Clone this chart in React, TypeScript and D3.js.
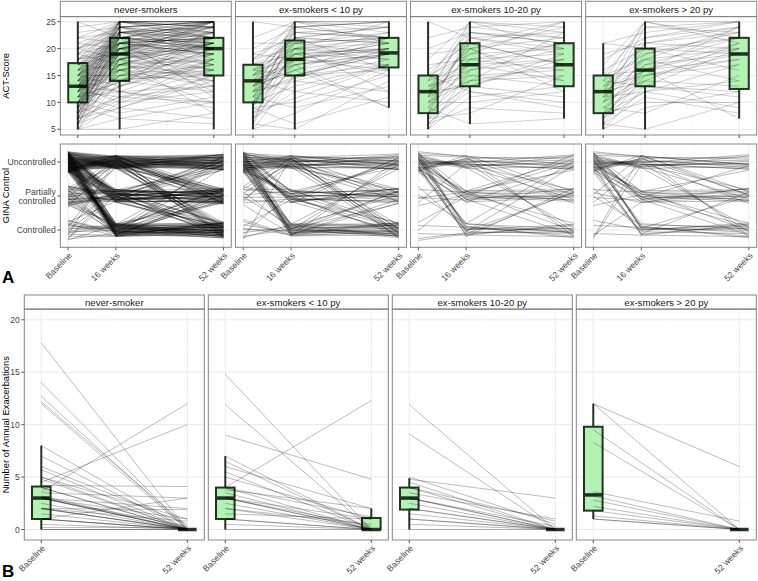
import React from 'react';
import * as d3 from 'd3';

const FONT = '"Liberation Sans", Arial, Helvetica, sans-serif';

// ---- categories & labels ----
const groupsA = ['never-smokers', 'ex-smokers < 10 py', 'ex-smokers 10-20 py', 'ex-smokers > 20 py'];
const groupsB = ['never-smoker', 'ex-smokers < 10 py', 'ex-smokers 10-20 py', 'ex-smokers > 20 py'];
const weeksA = [0, 16, 52];
const weekLabelsA = ['Baseline', '16 weeks', '52 weeks'];
const weeksB = [0, 52];
const weekLabelsB = ['Baseline', '52 weeks'];
const actTicks = [5, 10, 15, 20, 25];
const actMinor = [7.5, 12.5, 17.5, 22.5];
const ginaLevels = [['Uncontrolled'], ['Partially', 'controlled'], ['Controlled']];
const exaTicks = [0, 5, 10, 15, 20];
const exaMinor = [2.5, 7.5, 12.5, 17.5];

// ---- ACT box stats: per group, per time [min, q1, median, q3, max] ----
const actBoxNever = [[5, 10, 13, 17.3, 25], [5, 14, 19, 22, 25], [5, 15, 20, 22, 25]];
const actBoxEx10 = [[5, 10, 14, 17, 25], [5, 15, 18, 21.5, 25], [9, 16.5, 19.2, 22, 25]];
const actBoxEx1020 = [[5, 8, 12, 15, 25], [6, 13, 17, 21, 25], [7, 13, 17, 21, 25]];
const actBoxEx20 = [[5, 8, 12, 15, 21], [5, 13, 16, 20, 25], [7, 12.5, 19, 22, 25]];
const actBoxes = [actBoxNever, actBoxEx10, actBoxEx1020, actBoxEx20];

// ---- ACT scores per patient: [baseline, 16 weeks, 52 weeks] ----
const actNever = [
  [5, 14, 20], [5, 10, 12], [6, 18, 22], [6, 12, 9], [7, 15, 17], [7, 20, 23], [7, 9, 14], [8, 16, 15],
  [8, 22, 24], [8, 11, 10], [9, 19, 20], [9, 13, 18], [9, 24, 25], [10, 17, 21], [10, 8, 11], [10, 21, 19],
  [10, 14, 16], [10, 25, 25], [10, 19, 22], [11, 12, 13], [11, 20, 22], [11, 23, 21], [11, 16, 20], [11, 9, 7],
  [12, 18, 21], [12, 22, 23], [12, 15, 14], [12, 19, 24], [12, 11, 16], [12, 25, 23], [13, 20, 20], [13, 17, 19],
  [13, 23, 25], [13, 14, 12], [13, 21, 22], [13, 19, 17], [13, 10, 15], [13, 24, 22], [14, 18, 20], [14, 22, 21],
  [14, 16, 18], [14, 25, 25], [14, 12, 10], [14, 20, 23], [15, 19, 21], [15, 23, 24], [15, 15, 16], [15, 21, 20],
  [15, 13, 19], [15, 25, 24], [16, 20, 22], [16, 17, 14], [16, 22, 25], [16, 24, 21], [16, 14, 17], [17, 21, 22],
  [17, 19, 20], [17, 23, 23], [17, 16, 13], [17, 25, 25], [18, 22, 21], [18, 20, 24], [18, 24, 22], [19, 21, 20],
  [19, 25, 25], [19, 17, 18], [20, 23, 22], [20, 22, 25], [20, 18, 16], [21, 24, 23], [21, 20, 21], [22, 25, 24],
  [22, 21, 19], [23, 24, 25], [24, 25, 22], [25, 25, 25], [25, 22, 20], [5, 5, 8], [9, 7, 6], [11, null, 20],
  [14, null, 15], [7, null, 18], [12, 16, 10], [10, 13, 24], [13, 18, 8], [15, 20, 12], [11, 22, 17], [9, 17, 22],
  [16, 19, 19], [14, 21, 24], [12, 23, 20], [18, 19, 15], [20, 24, 25], [8, 18, 21], [6, 16, 19], [13, 22, 11],
  [10, 20, 25], [15, 24, 18], [6, 21, 25], [8, 25, 24], [11, 24, 25], [7, 23, 20], [9, 21, 23], [12, 20, 19],
  [5, 17, 21], [6, 20, 24], [7, 18, 25], [8, 21, 22], [9, 23, 24], [10, 22, 20], [11, 19, 25], [12, 21, 22],
  [13, 25, 24], [14, 23, 22], [15, 22, 25], [16, 25, 23], [17, 22, 20], [18, 25, 25], [12, 17, 15], [10, 15, 19],
  [8, 13, 17], [7, 11, 13], [9, 15, 21], [11, 17, 23], [13, 16, 21], [15, 18, 23], [14, 19, 16], [16, 21, 25],
  [19, 23, 24], [20, 25, 22], [22, 23, 25], [6, 9, 15], [5, 7, 10], [10, 18, 14], [12, 24, 25], [14, 24, 20],
  [9, 20, 17], [11, 14, 22], [13, 12, 18], [17, 20, 16], [18, 21, 19], [8, 19, 25], [7, 22, 21], [15, 21, 13],
];
const actEx10 = [
  [5, 15, 19], [5, 8, 16], [6, 18, 21], [7, 12, 17], [7, 20, 22], [8, 14, 18], [8, 17, 9], [9, 22, 24],
  [9, 10, 15], [10, 16, 19], [10, 19, 20], [10, 13, 17], [10, 24, 25], [11, 18, 21], [11, 15, 16], [11, 21, 22],
  [12, 17, 19], [12, 20, 18], [12, 14, 12], [12, 25, 25], [13, 19, 20], [13, 16, 22], [13, 22, 21], [13, 18, 17],
  [14, 15, 19], [14, 21, 23], [14, 18, 16], [14, 23, 24], [14, 12, 10], [15, 20, 21], [15, 17, 19], [15, 24, 22],
  [15, 19, 15], [16, 18, 20], [16, 22, 24], [16, 15, 17], [17, 21, 22], [17, 19, 18], [17, 25, 25], [18, 20, 19],
  [18, 23, 22], [19, 22, 21], [19, 18, 20], [20, 24, 25], [21, 21, 19], [22, 25, 24], [25, 24, 22], [6, 5, 14],
  [9, 6, 11], [11, 9, 13], [12, null, 20], [8, null, 17], [13, 16, 9], [16, 20, 12], [10, 19, 23], [14, 17, 20],
  [7, 15, 20], [15, 22, 16], [12, 18, 22], [18, 25, 21], [6, 24, 25], [9, 25, 23], [11, 23, 22], [13, 20, 25],
];
const actEx1020 = [
  [5, 11, 13], [5, 16, 20], [6, 9, 8], [6, 14, 17], [7, 18, 21], [7, 12, 10], [8, 15, 16], [8, 20, 22],
  [8, 13, 19], [9, 17, 14], [9, 22, 23], [10, 16, 18], [10, 10, 12], [11, 19, 20], [11, 14, 15], [11, 21, 17],
  [12, 17, 21], [12, 13, 11], [12, 24, 22], [12, 18, 16], [13, 20, 24], [13, 15, 13], [14, 22, 20], [14, 17, 18],
  [15, 19, 25], [15, 12, 9], [15, 23, 21], [16, 21, 17], [17, 18, 19], [18, 25, 23], [19, 20, 14], [20, 23, 22],
  [22, 24, 25], [25, 22, 19], [9, 6, 7], [7, 8, 15], [10, 21, 25], [13, 16, null], [6, 13, 18], [11, 25, 20],
  [14, 25, 24], [8, 23, 21], [10, 14, 23], [12, 20, 12],
];
const actEx20 = [
  [5, 13, 20], [5, 9, 12], [6, 15, 19], [6, 11, 8], [7, 17, 22], [7, 12, 14], [8, 14, 21], [8, 19, 23],
  [8, 10, 10], [9, 16, 18], [9, 13, 12], [10, 18, 24], [10, 15, 17], [11, 20, 22], [11, 12, 9], [11, 16, 20],
  [12, 17, 19], [12, 14, 13], [12, 22, 25], [12, 16, 21], [13, 15, 18], [13, 21, 23], [14, 19, 22], [14, 13, 11],
  [15, 18, 20], [15, 24, 25], [15, 16, 7], [16, 20, 19], [17, 25, 22], [18, 22, 24], [19, 21, 20], [21, 23, 25],
  [21, 20, 16], [6, 5, 10], [9, 8, 15], [10, 14, null], [7, 16, 24], [13, 18, 14], [12, 25, 21], [8, 12, 17],
  [10, 24, 23], [14, 25, 25], [11, 21, 24],
];
const actLines = [actNever, actEx10, actEx1020, actEx20];

// ---- GINA control transitions: [baseline, 16 weeks, 52 weeks, patients]; 1 = uncontrolled, 2 = partial, 3 = controlled ----
const ginaNever = [
  [1, 1, 1, 45], [1, 1, 2, 18], [1, 1, 3, 14], [1, 2, 2, 24], [1, 2, 3, 10], [1, 2, 1, 7], [1, 3, 3, 34],
  [1, 3, 2, 8], [1, 3, 1, 4], [2, 2, 2, 14], [2, 1, 1, 5], [2, 3, 3, 8], [2, 2, 3, 5], [2, 1, 2, 3],
  [2, 3, 2, 3], [3, 3, 3, 12], [3, 2, 2, 3], [3, 1, 1, 2], [3, 3, 2, 3], [2, 2, 1, 4], [3, 2, 3, 2],
];
const ginaEx10 = [
  [1, 1, 1, 20], [1, 3, 3, 15], [1, 2, 2, 12], [1, 1, 2, 8], [1, 1, 3, 6], [1, 2, 3, 6], [1, 2, 1, 3],
  [1, 3, 2, 4], [1, 3, 1, 3], [2, 2, 2, 5], [2, 3, 3, 3], [2, 1, 1, 3], [3, 3, 3, 6], [3, 2, 1, 2],
  [3, 1, 1, 1], [2, 2, 3, 2], [3, 3, 2, 2], [2, 1, 3, 2],
];
const ginaEx1020 = [
  [1, 1, 1, 12], [1, 3, 3, 8], [1, 2, 2, 8], [1, 1, 2, 5], [1, 1, 3, 3], [1, 2, 3, 3], [1, 3, 2, 2],
  [2, 2, 2, 3], [2, 1, 1, 1], [2, 3, 3, 2], [3, 3, 3, 3], [3, 2, 1, 2], [1, 2, 1, 2], [3, 3, 2, 1],
  [2, 2, 1, 1], [1, 3, 1, 2],
];
const ginaEx20 = [
  [1, 1, 1, 12], [1, 3, 3, 8], [1, 2, 2, 8], [1, 1, 2, 5], [1, 1, 3, 3], [1, 2, 3, 4], [2, 2, 2, 4],
  [2, 1, 1, 2], [3, 3, 3, 3], [3, 1, 1, 1], [2, 3, 3, 2], [3, 2, 2, 1], [1, 3, 2, 2], [1, 2, 1, 2],
  [3, 1, 2, 1],
];
const ginaGroups = [ginaNever, ginaEx10, ginaEx1020, ginaEx20];

// ---- Exacerbation box stats: per group, [baseline, 52 weeks] as [min, q1, median, q3, max] ----
const exaBoxes = [
  [[0, 1, 3, 4.1, 8], [0, 0, 0, 0, 0]],
  [[0, 1, 3, 4, 7], [0, 0, 0, 1.1, 2]],
  [[0, 1.9, 3, 4, 4.9], [0, 0, 0, 0, 0]],
  [[1, 1.8, 3.3, 9.8, 12], [0, 0, 0, 0, 0]],
];

// ---- Annual exacerbations per patient: [baseline, 52 weeks] ----
const exaNever = [
  [17.8, 0], [14, 0], [12.7, 0], [12.2, 0.3], [12, 0], [8, 0], [7, 0], [6, 0.5], [5.7, 0], [5, 0],
  [5, 1], [4.8, 0], [4.2, 4.1], [4, 0], [4.5, 10], [3.6, 12], [3.5, 3], [3.2, 0], [3, 0], [3, 2],
  [3, 0], [3, 1], [3, 0.3], [2.5, 0], [2, 0], [2, 1.9], [2, 0], [2, 0], [1.5, 0], [1, 0],
  [1, 3], [1, 0], [1, 0], [0.5, 0], [0, 0], [0, 0], [0.2, 0.2], [3, 0], [4, 0], [2, 0.8],
];
const exaEx10 = [
  [14.8, 0], [11.9, 0], [9, 4.8], [7, 0], [6.5, 0], [6, 2], [5.5, 0], [5, 1], [4, 12.3], [4, 0],
  [3.8, 2], [3.5, 0], [3, 0], [3, 1], [3, 0], [2.5, 0], [2, 0], [2, 0.5], [1, 0], [1, 0],
  [0.5, 0], [0, 0], [1.5, 1], [3, 0.3], [4, 1.2],
];
const exaEx1020 = [
  [11.9, 0], [9.1, 0], [5, 0.5], [4.8, 3], [4.5, 0], [4, 0.8], [4, 0], [3.5, 1], [3, 0], [3, 0],
  [3, 0.3], [2.5, 0], [2, 0], [2, 0], [1.5, 0], [1, 0], [1, 0], [0, 0], [0.5, 0],
];
const exaEx20 = [
  [12, 0], [12, 6], [9.5, 0], [8.3, 0], [3.6, 0.8], [3.2, 0], [2.8, 0], [2.2, 0], [1.8, 0], [1.3, 0],
  [1, 0], [1, 0],
];
const exaLines = [exaNever, exaEx10, exaEx1020, exaEx20];

// ---- layout ----
const A_LEFT = 60.3, A_STEP = 175.13, A_W = 171;
const A_STRIP = [1.3, 16.7], A_ACT_BOTTOM = 135;
const A_GINA = [144, 247.3];
const B_LEFT = 24.3, B_STEP = 184, B_W = 180;
const B_STRIP = [295, 309.3], B_BOTTOM = 540;

const BOX_FILL = '#b3f2b3';
const BOX_STROKE = '#223322';
const GRID_MAJOR = '#e8e8e8';
const GRID_MINOR = '#f4f4f4';
const BORDER = '#858585';
const TICK_TEXT = '#444';

const yAct = d3.scaleLinear().domain([5, 25]).range([129.3, 21.7]);
const yGina = d3.scaleLinear().domain([1, 3]).range([162, 230]);
const yExa = d3.scaleLinear().domain([-1, 21]).range([B_BOTTOM, B_STRIP[1]]);

// low-discrepancy spread for jittering categorical points
const SPREAD = [0.6180339887, 0.4142135624, 0.7320508076];
const SPREAD_AMP = [0.62, 0.4, 0.48];
const jitter = (k: number, t: number) => ((((k + 1) * SPREAD[t]) % 1) - 0.5) * SPREAD_AMP[t];

const Box: React.FC<{ x: number; hw: number; s: number[]; y: (v: number) => number }> = ({ x, hw, s, y }) => {
  const [mn, q1, md, q3, mx] = s;
  return (
    <g>
      <line x1={x} x2={x} y1={y(mx)} y2={y(mn)} stroke={BOX_STROKE} strokeWidth={2} />
      <rect x={x - hw} y={y(q3)} width={hw * 2} height={Math.max(0, y(q1) - y(q3))}
        fill={BOX_FILL} stroke={BOX_STROKE} strokeWidth={2} />
      <line x1={x - hw} x2={x + hw} y1={y(md)} y2={y(md)} stroke={BOX_STROKE} strokeWidth={3.5} />
    </g>
  );
};

const Strip: React.FC<{ x0: number; x1: number; y0: number; y1: number; label: string }> = ({ x0, x1, y0, y1, label }) => (
  <g>
    <rect x={x0} y={y0} width={x1 - x0} height={y1 - y0} fill="#fff" stroke={BORDER} strokeWidth={1} />
    <line x1={x0} x2={x1} y1={y1} y2={y1} stroke="#444" strokeWidth={1.2} />
    <text x={(x0 + x1) / 2} y={(y0 + y1) / 2 + 3.5} textAnchor="middle" fontSize={9.6} fill="#1a1a1a">{label}</text>
  </g>
);

const Grid: React.FC<{
  x0: number; x1: number; y0: number; y1: number;
  xs: number[]; xMinor: number[]; ys: number[]; yMinor: number[];
}> = ({ x0, x1, y0, y1, xs, xMinor, ys, yMinor }) => (
  <g>
    <rect x={x0} y={y0} width={x1 - x0} height={y1 - y0} fill="#fff" />
    {yMinor.map((v, i) => <line key={'ym' + i} x1={x0} x2={x1} y1={v} y2={v} stroke={GRID_MINOR} strokeWidth={0.5} />)}
    {xMinor.map((v, i) => <line key={'xm' + i} x1={v} x2={v} y1={y0} y2={y1} stroke={GRID_MINOR} strokeWidth={0.5} />)}
    {ys.map((v, i) => <line key={'y' + i} x1={x0} x2={x1} y1={v} y2={v} stroke={GRID_MAJOR} strokeWidth={0.9} />)}
    {xs.map((v, i) => <line key={'x' + i} x1={v} x2={v} y1={y0} y2={y1} stroke={GRID_MAJOR} strokeWidth={0.9} />)}
  </g>
);

const XTicks: React.FC<{ xs: number[]; y: number; labels?: string[] }> = ({ xs, y, labels }) => (
  <g>
    {xs.map((x, i) => (
      <g key={i}>
        <line x1={x} x2={x} y1={y} y2={y + 3} stroke="#333" strokeWidth={0.8} />
        {labels && (
          <text transform={`translate(${x},${y + 4.5}) rotate(-45)`} textAnchor="end" dy="0.72em"
            fontSize={8.6} fill={TICK_TEXT}>{labels[i]}</text>
        )}
      </g>
    ))}
  </g>
);

const line = d3.line<[number, number]>().x(d => d[0]).y(d => d[1]);

export default function App() {
  const panelsA = groupsA.map((g, gi) => {
    const x0 = A_LEFT + gi * A_STEP;
    const x1 = x0 + A_W;
    const xAct = d3.scaleLinear().domain([-6.7, 58.7]).range([x0, x1]);
    const xGina = d3.scaleLinear().domain([-2.6, 54.6]).range([x0, x1]);

    // expand GINA transitions into patients
    const patients: number[][] = [];
    ginaGroups[gi].forEach(([b, m, e, n]) => { for (let k = 0; k < n; k++) patients.push([b, m, e]); });

    return (
      <g key={g}>
        <Strip x0={x0} x1={x1} y0={A_STRIP[0]} y1={A_STRIP[1]} label={g} />
        {/* ACT score */}
        <Grid x0={x0} x1={x1} y0={A_STRIP[1]} y1={A_ACT_BOTTOM}
          xs={weeksA.map(xAct)} xMinor={[8, 34].map(xAct)}
          ys={actTicks.map(yAct)} yMinor={actMinor.map(yAct)} />
        {actBoxes[gi].map((s, ti) => <Box key={ti} x={xAct(weeksA[ti])} hw={9.6} s={s} y={yAct} />)}
        {actLines[gi].map((p, pi) => {
          const pts = p.map((v, ti) => [v, ti] as [number | null, number])
            .filter(d => d[0] != null)
            .map(d => [xAct(weeksA[d[1]]), yAct(d[0] as number)] as [number, number]);
          return <path key={pi} d={line(pts) || ''} fill="none" stroke="#000" strokeOpacity={0.34} strokeWidth={0.55} />;
        })}
        <rect x={x0} y={A_STRIP[1]} width={A_W} height={A_ACT_BOTTOM - A_STRIP[1]} fill="none" stroke={BORDER} strokeWidth={1} />
        <XTicks xs={weeksA.map(xAct)} y={A_ACT_BOTTOM} />

        {/* GINA control */}
        <Grid x0={x0} x1={x1} y0={A_GINA[0]} y1={A_GINA[1]}
          xs={weeksA.map(xGina)} xMinor={[8, 34].map(xGina)}
          ys={[1, 2, 3].map(yGina)} yMinor={[]} />
        {patients.map((p, k) => {
          const pts = p.map((v, ti) => [xGina(weeksA[ti]), yGina(v + jitter(k, ti))] as [number, number]);
          return <path key={k} d={line(pts) || ''} fill="none" stroke="#000" strokeOpacity={0.3} strokeWidth={0.9} />;
        })}
        <rect x={x0} y={A_GINA[0]} width={A_W} height={A_GINA[1] - A_GINA[0]} fill="none" stroke={BORDER} strokeWidth={1} />
        <XTicks xs={weeksA.map(xGina)} y={A_GINA[1]} labels={weekLabelsA} />
      </g>
    );
  });

  const panelsB = groupsB.map((g, gi) => {
    const x0 = B_LEFT + gi * B_STEP;
    const x1 = x0 + B_W;
    const xExa = d3.scaleLinear().domain([-6.05, 58.05]).range([x0, x1]);
    return (
      <g key={g}>
        <Strip x0={x0} x1={x1} y0={B_STRIP[0]} y1={B_STRIP[1]} label={g} />
        <Grid x0={x0} x1={x1} y0={B_STRIP[1]} y1={B_BOTTOM}
          xs={weeksB.map(xExa)} xMinor={[26].map(xExa)}
          ys={exaTicks.map(yExa)} yMinor={exaMinor.map(yExa)} />
        {exaBoxes[gi].map((s, ti) => <Box key={ti} x={xExa(weeksB[ti])} hw={9.3} s={s} y={yExa} />)}
        {exaLines[gi].map((p, pi) => {
          const pts = p.map((v, ti) => [xExa(weeksB[ti]), yExa(v)] as [number, number]);
          return <path key={pi} d={line(pts) || ''} fill="none" stroke="#000" strokeOpacity={0.38} strokeWidth={0.7} />;
        })}
        <rect x={x0} y={B_STRIP[1]} width={B_W} height={B_BOTTOM - B_STRIP[1]} fill="none" stroke={BORDER} strokeWidth={1} />
        <XTicks xs={weeksB.map(xExa)} y={B_BOTTOM} labels={weekLabelsB} />
      </g>
    );
  });

  return (
    <svg width={758} height={581} style={{ position: 'absolute', left: 0, top: 0, background: '#fff' }} fontFamily={FONT}>
      <rect width={758} height={581} fill="#fff" />
      {panelsA}
      {panelsB}

      {/* y axes, section A */}
      {actTicks.map(v => (
        <g key={'act' + v}>
          <line x1={A_LEFT - 3} x2={A_LEFT} y1={yAct(v)} y2={yAct(v)} stroke="#333" strokeWidth={0.8} />
          <text x={A_LEFT - 4.5} y={yAct(v) + 3.1} textAnchor="end" fontSize={8.6} fill={TICK_TEXT}>{v}</text>
        </g>
      ))}
      {ginaLevels.map((lab, i) => (
        <g key={'gina' + i}>
          <line x1={A_LEFT - 3} x2={A_LEFT} y1={yGina(i + 1)} y2={yGina(i + 1)} stroke="#333" strokeWidth={0.8} />
          <text x={A_LEFT - 4.5} y={yGina(i + 1) + (lab.length > 1 ? -1 : 3.1)} textAnchor="end" fontSize={8.6} fill={TICK_TEXT}>
            {lab.map((t, j) => <tspan key={j} x={A_LEFT - 4.5} dy={j === 0 ? 0 : 9.4}>{t}</tspan>)}
          </text>
        </g>
      ))}
      <text transform={`translate(9,${(A_STRIP[1] + A_ACT_BOTTOM) / 2}) rotate(-90)`} textAnchor="middle" fontSize={9.4}>ACT-Score</text>
      <text transform={`translate(8.5,${(A_GINA[0] + A_GINA[1]) / 2}) rotate(-90)`} textAnchor="middle" fontSize={9.4}>GINA Control</text>
      <text x={2} y={283} fontSize={17} fontWeight="bold">A</text>

      {/* y axis, section B */}
      {exaTicks.map(v => (
        <g key={'exa' + v}>
          <line x1={B_LEFT - 3} x2={B_LEFT} y1={yExa(v)} y2={yExa(v)} stroke="#333" strokeWidth={0.8} />
          <text x={B_LEFT - 4.5} y={yExa(v) + 3.1} textAnchor="end" fontSize={8.6} fill={TICK_TEXT}>{v}</text>
        </g>
      ))}
      <text transform={`translate(9,${(B_STRIP[1] + B_BOTTOM) / 2}) rotate(-90)`} textAnchor="middle" fontSize={9.4}>Number of Annual Exacerbations</text>
      <text x={2} y={577} fontSize={17} fontWeight="bold">B</text>
    </svg>
  );
}
